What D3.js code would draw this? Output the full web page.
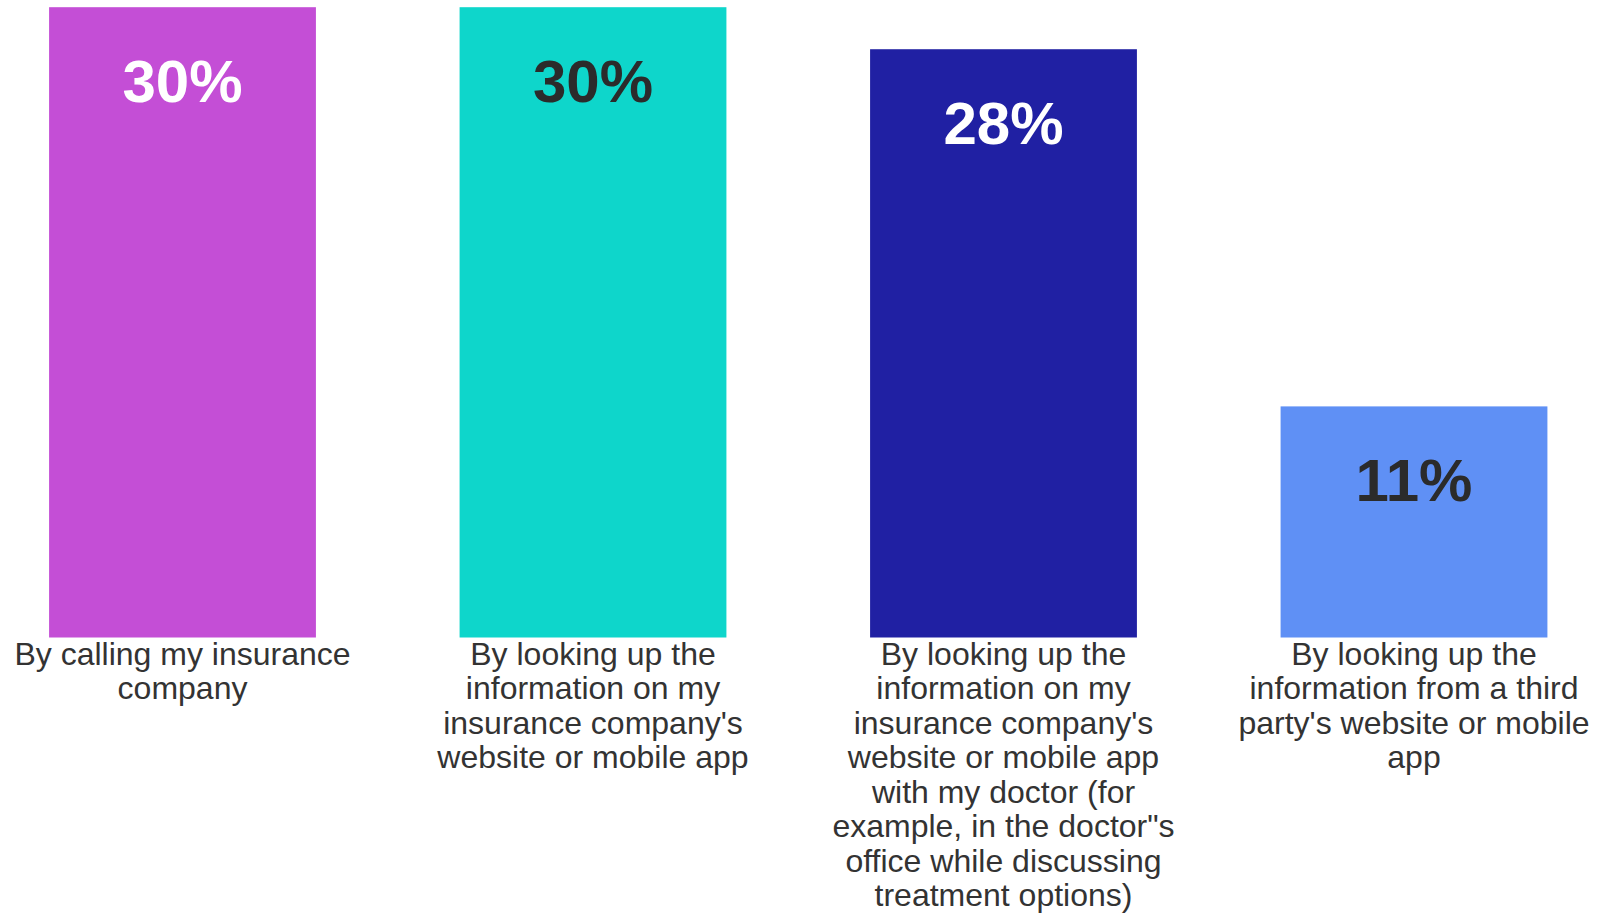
<!DOCTYPE html>
<html>
<head>
<meta charset="utf-8">
<script src="https://cdn.jsdelivr.net/npm/d3@7"></script>
<style>
  html, body { margin: 0; padding: 0; background: #ffffff; }
  svg { display: block; }
</style>
</head>
<body>
<script>
// Survey answers: how people look up the cost of care
const categories = [
  "By calling my insurance\ncompany",
  "By looking up the\ninformation on my\ninsurance company's\nwebsite or mobile app",
  "By looking up the\ninformation on my\ninsurance company's\nwebsite or mobile app\nwith my doctor (for\nexample, in the doctor\"s\noffice while discussing\ntreatment options)",
  "By looking up the\ninformation from a third\nparty's website or mobile\napp"
];
const values = [30, 30, 28, 11];
const valueLabels = ["30%", "30%", "28%", "11%"];
const barColors = ["#c44ed6", "#0ed6cb", "#2020a3", "#5f90f5"];
const labelColors = ["#ffffff", "#2b2b2b", "#ffffff", "#2b2b2b"];

const width = 1617, height = 913;
const svg = d3.select("body").append("svg")
  .attr("width", width).attr("height", height);

const x = d3.scaleBand()
  .domain(d3.range(categories.length))
  .range([-22.75, 1619.25])
  .paddingInner(0.35)
  .paddingOuter(0.175);

const y = d3.scaleLinear().domain([0, 30]).range([637.5, 7.2]);

const bars = svg.append("g").selectAll("g")
  .data(values)
  .join("g");

bars.append("rect")
  .attr("x", (d, i) => x(i))
  .attr("width", x.bandwidth())
  .attr("y", d => y(d))
  .attr("height", d => y(0) - y(d))
  .attr("fill", (d, i) => barColors[i]);

bars.append("text")
  .attr("x", (d, i) => x(i) + x.bandwidth() / 2)
  .attr("y", d => y(d) + 95)
  .attr("text-anchor", "middle")
  .attr("font-family", "'Liberation Sans', Arial, sans-serif")
  .attr("font-weight", "bold")
  .attr("font-size", 60)
  .attr("fill", (d, i) => labelColors[i])
  .text((d, i) => valueLabels[i]);

// Category captions beneath each bar, one tspan per line
const captions = svg.append("g").selectAll("text")
  .data(categories)
  .join("text")
  .attr("x", (d, i) => x(i) + x.bandwidth() / 2)
  .attr("y", y(0) + 27)
  .attr("text-anchor", "middle")
  .attr("font-family", "'Liberation Sans', Arial, sans-serif")
  .attr("font-size", 32)
  .attr("fill", "#333333");

captions.each(function (d, i) {
  const t = d3.select(this);
  const cx = x(i) + x.bandwidth() / 2;
  d.split("\n").forEach((line, k) => {
    t.append("tspan")
      .attr("x", cx)
      .attr("dy", k === 0 ? 0 : 34.5)
      .text(line);
  });
});
</script>
</body>
</html>
